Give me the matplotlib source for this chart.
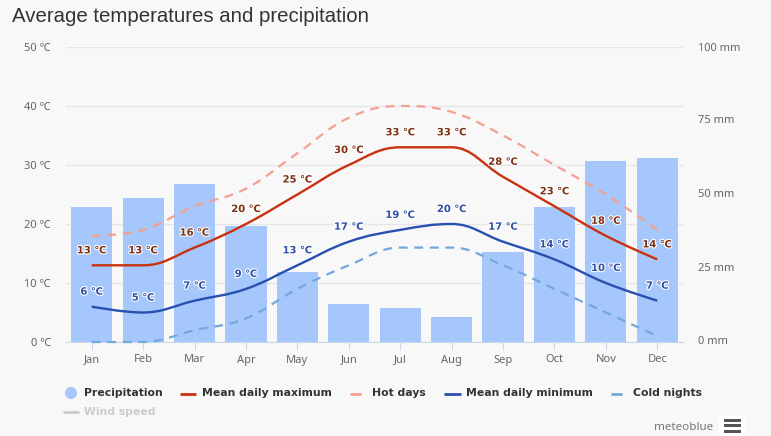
import matplotlib
matplotlib.use('Agg')
import matplotlib.pyplot as plt
import matplotlib.patheffects as pe
from matplotlib.path import Path
from matplotlib.patches import PathPatch, Circle, Rectangle
from matplotlib.transforms import ScaledTranslation

months = ['Jan', 'Feb', 'Mar', 'Apr', 'May', 'Jun', 'Jul', 'Aug', 'Sep', 'Oct', 'Nov', 'Dec']
precip = [45.8, 48.8, 53.5, 39.3, 23.7, 12.9, 11.5, 8.5, 30.5, 45.8, 61.4, 62.4]
mean_max = [13, 13, 16, 20, 25, 30, 33, 33, 28, 23, 18, 14]
mean_min = [6, 5, 7, 9, 13, 17, 19, 20, 17, 14, 10, 7]
hot_days = [18, 19, 23, 26, 32, 38, 40, 39, 35, 30, 25, 19]
cold_nights = [0, 0, 2, 4, 9, 13, 16, 16, 13, 9, 5, 1]
temp_ticks = [0, 10, 20, 30, 40, 50]
precip_ticks = [0, 25, 50, 75, 100]

W, H = 771, 436
BG = '#f8f8f8'
RED = '#c9310f'
BLUE = '#2850b0'
HOT = '#f4a090'
COLD = '#74a8dc'
BAR = '#a6c7fc'
TICK = '#666666'
AXIS = '#ccd6eb'
GRID = '#e6e6e6'
DASH = (4, 3)

plt.rcParams['font.family'] = ['Noto Sans', 'DejaVu Sans']


def spline_path(xs, ys):
    # same control points as a highcharts spline
    verts = [(xs[0], ys[0])]
    codes = [Path.MOVETO]
    n = len(xs)
    right = (xs[0], ys[0])
    for i in range(1, n):
        x, y = xs[i], ys[i]
        if i < n - 1:
            lx, ly = xs[i - 1], ys[i - 1]
            nx, ny = xs[i + 1], ys[i + 1]
            lcx = (1.5 * x + lx) / 2.5
            lcy = (1.5 * y + ly) / 2.5
            rcx = (1.5 * x + nx) / 2.5
            rcy = (1.5 * y + ny) / 2.5
            c = (rcy - lcy) * (rcx - x) / (rcx - lcx) + y - rcy
            lcy += c
            rcy += c
            if lcy > ly and lcy > y:
                lcy = max(ly, y)
                rcy = 2 * y - lcy
            elif lcy < ly and lcy < y:
                lcy = min(ly, y)
                rcy = 2 * y - lcy
            if rcy > ny and rcy > y:
                rcy = max(ny, y)
                lcy = 2 * y - rcy
            elif rcy < ny and rcy < y:
                rcy = min(ny, y)
                lcy = 2 * y - rcy
            left = (lcx, lcy)
            next_right = (rcx, rcy)
        else:
            left = (x, y)
            next_right = (x, y)
        verts += [right, left, (x, y)]
        codes += [Path.CURVE4, Path.CURVE4, Path.CURVE4]
        right = next_right
    return Path(verts, codes)


fig = plt.figure(figsize=(W / 100, H / 100), dpi=100, facecolor=BG)
box = [66 / W, 1 - 342 / H, 617 / W, 295 / H]
ax = fig.add_axes(box, facecolor=BG)
x = list(range(12))

# left axis and grid at the bottom
ax.set_xlim(-0.5, 11.5)
ax.set_ylim(0, 50)
ax.set_yticks(temp_ticks)
ax.set_yticklabels([str(t) + ' ℃' for t in temp_ticks], fontsize=8, color=TICK)
ax.tick_params(axis='y', length=0, pad=11)
ax.grid(axis='y', color=GRID, lw=1)
ax.set_axisbelow(True)
ax.set_xticks(x)
ax.set_xticklabels(months, fontsize=8, color=TICK)
ax.tick_params(axis='x', length=6, width=0.8, color=AXIS, pad=3)
for s in ax.spines.values():
    s.set_visible(False)
ax.spines['bottom'].set_visible(True)
ax.spines['bottom'].set_color(AXIS)

# precipitation bars
ax_p = ax.twinx()
ax_p.patch.set_visible(False)
ax_p.set_ylim(0, 100)
ax_p.bar(x, precip, width=0.8, color=BAR, zorder=2)
ax_p.set_yticks(precip_ticks)
ax_p.set_yticklabels([str(t) + ' mm' for t in precip_ticks], fontsize=8, color=TICK)
ax_p.tick_params(axis='y', length=0, pad=11)
for s in ax_p.spines.values():
    s.set_visible(False)
shift = ScaledTranslation(0, 1.5 / 100, fig.dpi_scale_trans)
for lab in ax_p.get_yticklabels()[:-1]:
    lab.set_transform(lab.get_transform() + shift)

# temperature lines
ax_l = ax.twinx()
ax_l.patch.set_visible(False)
ax_l.set_ylim(0, 50)
ax_l.set_yticks([])
for s in ax_l.spines.values():
    s.set_visible(False)

ax_l.add_patch(PathPatch(spline_path(x, hot_days), fill=False, ec=HOT, lw=1.6, ls=(0, DASH), capstyle='butt'))
ax_l.add_patch(PathPatch(spline_path(x, cold_nights), fill=False, ec=COLD, lw=1.6, ls=(0, DASH), capstyle='butt', clip_on=False))
ax_l.add_patch(PathPatch(spline_path(x, mean_max), fill=False, ec=RED, lw=1.7))
ax_l.add_patch(PathPatch(spline_path(x, mean_min), fill=False, ec=BLUE, lw=1.7))

halo = [pe.withStroke(linewidth=1.6, foreground='white')]
for series, col in [(mean_max, '#7d2f14'), (mean_min, '#2f4ea5')]:
    for i, v in zip(x, series):
        ax_l.annotate(str(v) + ' ℃', (i, v), xytext=(0, 15), textcoords='offset pixels',
                      ha='center', va='center', fontsize=7.2, fontweight='bold',
                      family='DejaVu Sans', color=col, path_effects=halo)

# title
fig.text(12 / W, 1 - 17 / H, 'Average temperatures and precipitation', fontsize=14.7,
         family='Liberation Sans', color='#333333', va='center', ha='left')

# legend, placed by hand
def legend_line(x0, x1, y, col, dashed=False):
    line = plt.Line2D([x0 / W, x1 / W], [1 - y / H, 1 - y / H], transform=fig.transFigure,
                      color=col, lw=2, solid_capstyle='butt')
    if dashed:
        line.set_linestyle((0, DASH))
        line.set_dash_capstyle('butt')
    fig.add_artist(line)


def legend_text(px, y, s, col='#333333'):
    fig.text(px / W, 1 - y / H, s, fontsize=7.8, fontweight='bold', color=col,
             family='DejaVu Sans', va='center', ha='left')


fig.add_artist(Circle((71, H - 393), 6, transform=None, fc=BAR, ec='none'))
legend_text(84, 393.5, 'Precipitation')
legend_line(180, 196, 393.5, RED)
legend_text(202, 393.5, 'Mean daily maximum')
legend_line(350, 366, 393.5, HOT, True)
legend_text(372, 393.5, 'Hot days')
legend_line(444, 461, 393.5, BLUE)
legend_text(466, 393.5, 'Mean daily minimum')
legend_line(611, 628, 393.5, COLD, True)
legend_text(633, 393.5, 'Cold nights')
legend_line(63, 79, 412, '#cccccc')
legend_text(84, 412, 'Wind speed', '#cccccc')

# credit and menu button
fig.text(654 / W, 1 - 427 / H, 'meteoblue', fontsize=8.4, color='#777777', va='center', ha='left')
fig.add_artist(Rectangle((719 / W, 1 - 436 / H), 26 / W, 20 / H, transform=fig.transFigure, fc='white', ec='none'))
for yy in (420, 425.5, 431):
    fig.add_artist(Rectangle((723.5 / W, 1 - (yy + 1.5) / H), 17 / W, 3 / H, transform=fig.transFigure,
                             fc='#555555', ec='none'))

fig.savefig('out.png', dpi=100, facecolor=BG)
